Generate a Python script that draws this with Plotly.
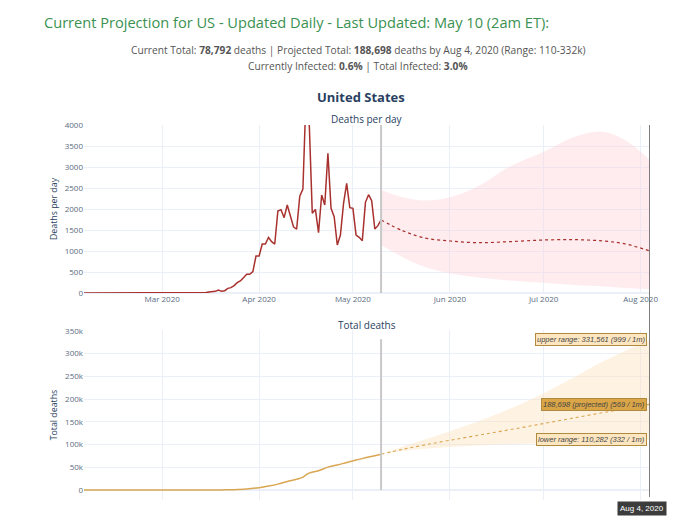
import pandas as pd
import plotly.graph_objects as go

# daily deaths, observed (Feb 5 .. May 10)
obs_dates = pd.date_range('2020-02-05', '2020-05-10', freq='D')
obs_daily = [
    0, 0, 0, 0, 0, 0, 0, 0, 0, 0, 0, 0, 0, 0, 0, 0, 0, 0, 0, 0, 0, 0, 0, 0, 0,  # Feb 5-29
    1, 5, 1, 4, 1, 2, 3, 4, 1, 4, 8, 6, 7, 12, 10, 22, 25, 40, 71, 40,
    55, 111, 127, 175, 246, 286, 365, 444, 444, 508, 881,  # Mar
    881, 1166, 1166, 1325, 1222, 1166, 1952, 1984, 1794, 2095,
    1813, 1574, 1518, 2305, 2472, 4700, 4100, 1897, 1992, 1436,
    2333, 2095, 3326, 2016, 1817, 1143, 1381, 2135, 2611, 2031,  # Apr
    2016, 1381, 1325, 1246, 2159, 2341, 2200, 1524, 1603, 1740,  # May 1-10
]

# total deaths, observed
tot_dates = ['2020-02-05', '2020-03-01', '2020-03-10', '2020-03-15', '2020-03-20',
             '2020-03-24', '2020-03-28', '2020-04-01', '2020-04-04', '2020-04-07',
             '2020-04-10', '2020-04-13', '2020-04-15', '2020-04-16', '2020-04-17',
             '2020-04-20', '2020-04-23', '2020-04-26', '2020-04-29', '2020-05-02',
             '2020-05-05', '2020-05-08', '2020-05-10']
tot_obs = [0, 1, 30, 70, 260, 700, 2000, 5100, 8600, 12900, 18700, 23600, 28400,
           33100, 37200, 42500, 50300, 55100, 60600, 66000, 70800, 75500, 78792]

# projections
proj_dates = ['2020-05-10', '2020-05-17', '2020-05-24', '2020-06-01', '2020-06-10',
              '2020-06-20', '2020-07-01', '2020-07-11', '2020-07-20', '2020-07-27',
              '2020-08-04']
daily_mid = [1740, 1480, 1310, 1238, 1198, 1222, 1262, 1270, 1238, 1170, 1000]
daily_upper = [2452, 2278, 2200, 2278, 2540, 3008, 3365, 3723, 3841, 3643, 3167]
daily_lower = [1143, 850, 620, 468, 370, 300, 246, 190, 155, 120, 87]
total_mid = [78792, 89500, 99200, 109400, 120300, 132500, 146300, 159000, 170300,
             178800, 188698]
total_upper = [78792, 95500, 111300, 129300, 150500, 178000, 213000, 249000, 283000,
               306000, 331561]
total_lower = [78792, 85600, 90600, 94700, 98000, 100800, 103000, 105800, 107800,
               109200, 110282]

today = '2020-05-10'
end_day = '2020-08-04'

red = '#a8312e'
gold = '#d9a651'
# page has an 8px body margin; positions below are in window pixels
off = 8
pad_left, pad_top, plot_w, plot_h = 84, 125, 566, 375


def py(px):
    # window pixel row -> paper y
    return (pad_top + plot_h - px) / plot_h


def pxx(px):
    return (px - pad_left) / plot_w


fig = go.Figure()

# top: deaths per day
fig.add_trace(go.Scatter(x=proj_dates, y=daily_upper, mode='lines', line=dict(width=0, shape='spline'),
                         xaxis='x', yaxis='y', hoverinfo='skip'))
fig.add_trace(go.Scatter(x=proj_dates, y=daily_lower, mode='lines', line=dict(width=0, shape='spline'),
                         fill='tonexty', fillcolor='rgba(252,205,214,0.38)',
                         xaxis='x', yaxis='y', hoverinfo='skip'))
fig.add_trace(go.Scatter(x=obs_dates, y=obs_daily, mode='lines', line=dict(color=red, width=1.5),
                         xaxis='x', yaxis='y'))
fig.add_trace(go.Scatter(x=proj_dates, y=daily_mid, mode='lines',
                         line=dict(color=red, width=1.2, dash='dot', shape='spline'),
                         xaxis='x', yaxis='y'))

# bottom: total deaths
fig.add_trace(go.Scatter(x=proj_dates, y=total_upper, mode='lines', line=dict(width=0, shape='spline'),
                         xaxis='x2', yaxis='y2', hoverinfo='skip'))
fig.add_trace(go.Scatter(x=proj_dates, y=total_lower, mode='lines', line=dict(width=0, shape='spline'),
                         fill='tonexty', fillcolor='rgba(253,220,180,0.38)',
                         xaxis='x2', yaxis='y2', hoverinfo='skip'))
fig.add_trace(go.Scatter(x=tot_dates, y=tot_obs, mode='lines', line=dict(color=gold, width=1.5, shape='spline'),
                         xaxis='x2', yaxis='y2'))
fig.add_trace(go.Scatter(x=proj_dates, y=total_mid, mode='lines',
                         line=dict(color=gold, width=1.1, dash='dot', shape='spline'),
                         xaxis='x2', yaxis='y2'))

tick_font = dict(size=8, color='#5b6b82')
fig.update_layout(
    template='plotly_white',
    width=680, height=526,
    margin=dict(l=pad_left - off, r=680 - pad_left - plot_w + off,
                t=pad_top - off, b=526 - pad_top - plot_h + off),
    showlegend=False,
    font=dict(family='Open Sans, Arial, sans-serif', color='#2a3f5f'),
    xaxis=dict(domain=[0, 1], anchor='y', range=['2020-02-05', end_day],
               tickfont=tick_font, dtick='M1', tickformat='%b %Y'),
    yaxis=dict(domain=[py(293), 1], anchor='x', range=[0, 4000], dtick=500,
               tickfont=tick_font,
               title=dict(text='Deaths per day', font=dict(size=8.8), standoff=5)),
    xaxis2=dict(domain=[0, 1], anchor='y2', range=['2020-02-05', end_day],
                showticklabels=False, dtick='M1'),
    yaxis2=dict(domain=[0, py(330)], anchor='x2', range=[-22000, 352000], dtick=50000,
                tickfont=tick_font, tickformat='~s', zeroline=True,
                title=dict(text='Total deaths', font=dict(size=8.8), standoff=5)),
)

# today line and hover spike
fig.add_shape(type='line', xref='x', yref='y domain', x0=today, x1=today, y0=0, y1=1,
              line=dict(color='#c8c8c8', width=2))
fig.add_shape(type='line', xref='x2', yref='y2', x0=today, x1=today, y0=0, y1=total_upper[-1],
              line=dict(color='#c8c8c8', width=2))
fig.add_shape(type='line', xref='x2', yref='paper', x0=end_day, x1=end_day, y0=py(497), y1=1,
              line=dict(color='#555555', width=1.5))

# header text
fig.add_annotation(text='Current Projection for US - Updated Daily - Last Updated: May 10 (2am ET):',
                   xref='paper', yref='paper', x=pxx(42), y=py(22), xanchor='left', yanchor='middle',
                   showarrow=False, font=dict(size=14.6, color='#3a9150'))
fig.add_annotation(text='Current Total: <b>78,792</b> deaths | Projected Total: <b>188,698</b> deaths '
                        'by Aug 4, 2020 (Range: 110-332k)',
                   xref='paper', yref='paper', x=pxx(358), y=py(50), xanchor='center', yanchor='middle',
                   showarrow=False, font=dict(size=10.2, color='#555555'))
fig.add_annotation(text='Currently Infected: <b>0.6%</b> | Total Infected: <b>3.0%</b>',
                   xref='paper', yref='paper', x=pxx(358), y=py(66), xanchor='center', yanchor='middle',
                   showarrow=False, font=dict(size=10.2, color='#555555'))
fig.add_annotation(text='<b>United States</b>', xref='paper', yref='paper', x=pxx(361), y=py(97),
                   xanchor='center', yanchor='middle', showarrow=False, font=dict(size=13))
fig.add_annotation(text='Deaths per day', xref='paper', yref='paper', x=0.5, y=py(119),
                   xanchor='center', yanchor='middle', showarrow=False, font=dict(size=10))
fig.add_annotation(text='Total deaths', xref='paper', yref='paper', x=0.5, y=py(325),
                   xanchor='center', yanchor='middle', showarrow=False, font=dict(size=10))

# hover-style labels at Aug 4
labels = [
    ('upper range: 331,561 (999 / 1m)', total_upper[-1], '#fde6c0'),
    ('188,698 (projected) (569 / 1m)', total_mid[-1], '#d9a547'),
    ('lower range: 110,282 (332 / 1m)', total_lower[-1], '#fde6c0'),
]
for txt, val, bg in labels:
    fig.add_annotation(text='<i>' + txt + '</i>', xref='x2', yref='y2', x=end_day, y=val,
                       xanchor='right', yanchor='middle', xshift=-3, showarrow=False,
                       bgcolor=bg, bordercolor='#b08a3e', borderwidth=1, borderpad=1,
                       font=dict(family='Arial', size=7.5, color='#444444'))
fig.add_annotation(text='Aug 4, 2020', xref='x2', yref='paper', x=end_day, y=py(508),
                   xanchor='center', yanchor='middle', xshift=-8, showarrow=False,
                   bgcolor='#3c3c3c', borderpad=2,
                   font=dict(family='Arial', size=8, color='white'))

fig.write_html('out.html')
